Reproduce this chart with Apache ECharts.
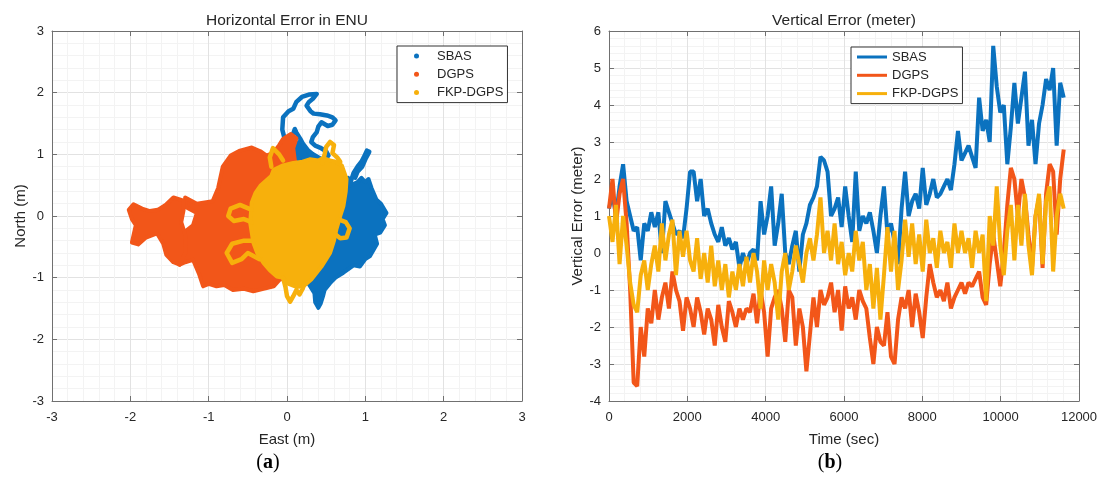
<!DOCTYPE html>
<html>
<head>
<meta charset="utf-8">
<script src="https://cdn.jsdelivr.net/npm/echarts@6/dist/echarts.min.js"></script>
<style>
  html, body { margin: 0; background: #fff; }
  #chart { width: 1102px; height: 487px; }
</style>
</head>
<body>
<div id="chart"></div>
<script>
// ---- (a) horizontal error, [east, north] in metres ----
const sbasEastLobe = [[0.45,0.6],[0.62,0.62],[0.7,0.58],[0.78,0.62],[0.82,0.5],[0.9,0.55],[0.95,0.62],[1.0,0.55],[1.04,0.6],[1.08,0.45],[1.14,0.27],[1.2,0.2],[1.27,0.05],[1.22,-0.05],[1.25,-0.15],[1.19,-0.27],[1.12,-0.3],[1.15,-0.45],[1.06,-0.65],[1.0,-0.7],[0.93,-0.82],[0.85,-0.8],[0.72,-0.92],[0.62,-1.0],[0.55,-1.09],[0.48,-1.2],[0.46,-1.3],[0.43,-1.42],[0.4,-1.49],[0.36,-1.4],[0.35,-1.25],[0.3,-1.15],[0.25,-1.05],[0.3,-0.6],[0.4,0.0]];
const sbasNorthCore = [[-0.02,0.8],[0.0,1.0],[0.05,1.15],[0.15,1.2],[0.22,1.1],[0.3,1.0],[0.36,0.9],[0.3,0.8]];
const sbasNorthLoops = [[0.1,0.8],[0.05,0.95],[-0.03,1.1],[-0.03,1.25],[-0.06,1.4],[-0.05,1.6],[0.02,1.7],[0.08,1.74],[0.12,1.85],[0.19,1.93],[0.28,1.97],[0.38,1.98],[0.33,1.9],[0.28,1.85],[0.25,1.79],[0.3,1.7],[0.34,1.66],[0.42,1.65],[0.51,1.63],[0.58,1.6],[0.62,1.55],[0.58,1.48],[0.52,1.46],[0.44,1.52],[0.4,1.45],[0.38,1.36],[0.33,1.28],[0.31,1.2],[0.36,1.14],[0.42,1.11],[0.5,1.05],[0.53,0.98],[0.47,0.9],[0.4,0.95],[0.33,1.0],[0.27,1.06],[0.2,1.18],[0.17,1.25],[0.12,1.35],[0.1,1.41],[0.07,1.3],[0.04,1.1],[0.1,1.0],[0.15,0.9],[0.2,0.8]];
const sbasEastString = [[0.8,0.5],[0.85,0.7],[0.9,0.8],[0.95,0.88],[0.98,0.95],[1.02,1.06],[1.05,1.04],[1.0,0.92],[0.96,0.8],[0.9,0.72],[0.87,0.62]];

const dgpsCore = [[-1.3,0.3],[-1.15,0.2],[-0.95,0.24],[-0.88,0.45],[-0.82,0.8],[-0.72,0.98],[-0.6,1.06],[-0.45,1.11],[-0.34,1.05],[-0.26,0.98],[-0.17,1.03],[-0.1,1.15],[-0.05,1.25],[0.05,1.33],[0.12,1.26],[0.08,1.1],[0.1,0.9],[0.2,0.7],[0.2,0.0],[0.0,-1.0],[-0.09,-1.03],[-0.17,-1.14],[-0.3,-1.18],[-0.43,-1.22],[-0.55,-1.18],[-0.69,-1.2],[-0.8,-1.12],[-0.9,-1.14],[-1.0,-1.1],[-1.07,-1.14],[-1.12,-0.95],[-1.2,-0.71],[-1.3,-0.75],[-1.37,-0.79],[-1.45,-0.7],[-1.5,-0.5],[-1.35,-0.3],[-1.2,-0.15],[-1.15,0.05],[-1.3,0.15]];
const dgpsWestTail = [[-1.32,0.25],[-1.45,0.3],[-1.55,0.18],[-1.65,0.1],[-1.75,0.08],[-1.85,0.12],[-1.96,0.19],[-2.02,0.1],[-1.98,-0.05],[-1.93,-0.15],[-1.98,-0.43],[-1.9,-0.46],[-1.8,-0.35],[-1.66,-0.28],[-1.58,-0.45],[-1.54,-0.63],[-1.45,-0.75],[-1.37,-0.79],[-1.3,-0.6],[-1.3,-0.3],[-1.35,-0.1],[-1.32,0.1]];

const fkpCore = [[-0.34,0.49],[-0.2,0.65],[-0.17,0.75],[-0.05,0.82],[0.08,0.86],[0.2,0.88],[0.29,0.92],[0.4,0.9],[0.46,0.94],[0.55,0.9],[0.62,0.88],[0.7,0.82],[0.76,0.6],[0.75,0.4],[0.72,0.16],[0.68,0.0],[0.63,-0.22],[0.6,-0.4],[0.55,-0.6],[0.44,-0.82],[0.36,-0.95],[0.31,-1.03],[0.21,-1.14],[0.12,-1.15],[0.02,-1.1],[-0.05,-1.0],[-0.13,-0.98],[-0.22,-0.88],[-0.3,-0.76],[-0.38,-0.6],[-0.43,-0.43],[-0.47,-0.11],[-0.45,0.22],[-0.4,0.38]];
const fkpNorthLoop = [[0.45,0.85],[0.48,1.0],[0.5,1.12],[0.55,1.2],[0.6,1.15],[0.58,1.02],[0.64,0.95],[0.68,0.88]];
const fkpNorthWestLoop = [[-0.2,0.8],[-0.22,0.95],[-0.18,1.1],[-0.1,1.0],[-0.05,0.9]];
const fkpWestLoop = [[-0.45,0.1],[-0.6,0.18],[-0.72,0.12],[-0.75,0.0],[-0.68,-0.08],[-0.55,-0.05],[-0.45,-0.1]];
const fkpSouthWestLoop = [[-0.42,-0.4],[-0.55,-0.4],[-0.7,-0.45],[-0.77,-0.6],[-0.7,-0.76],[-0.58,-0.7],[-0.5,-0.6],[-0.35,-0.7]];
const fkpSouthLoop = [[-0.05,-1.0],[-0.02,-1.15],[0.0,-1.3],[0.04,-1.39],[0.08,-1.3],[0.12,-1.2],[0.16,-1.27],[0.2,-1.18],[0.22,-1.1]];
const fkpEastLoop = [[0.65,-0.05],[0.75,-0.1],[0.8,-0.2],[0.76,-0.35],[0.68,-0.36],[0.62,-0.3]];

// ---- (b) vertical error in metres, one reading every 90 s ----
const timeStep = 90;
const sbasVert = [1.2,1.6,1.0,1.8,2.4,1.4,1.0,0.6,0.7,-0.2, 0.8,0.6,1.1,0.7,1.1,0.0,1.4,1.1,0.8,0.5,
  0.6,0.4,1.2,2.2,2.2,1.4,2.0,1.0,1.2,0.8, 0.5,0.3,0.7,0.2,0.4,0.1,0.3,-0.4,0.0,-0.3,
  0.0,0.1,-0.2,1.4,0.5,1.0,1.8,0.2,0.8,1.6, 0.0,-0.3,0.2,0.6,-0.5,0.5,0.8,1.3,1.5,1.8,
  2.6,2.5,2.2,1.0,1.2,1.5,0.7,1.8,1.0,0.3, 2.2,0.6,1.0,0.8,1.1,0.6,0.0,1.0,1.8,0.5,
  0.8,0.3,-0.3,1.2,2.2,1.0,1.4,1.6,1.2,2.3, 1.3,1.6,2.0,1.5,1.6,1.8,2.0,1.7,2.4,3.3,
  2.5,2.7,2.9,2.6,2.3,4.2,3.3,3.6,3.0,5.6, 4.5,3.8,4.0,2.4,3.4,4.6,3.5,4.2,4.9,2.9,
  3.6,2.4,3.5,4.0,4.7,4.4,5.0,2.9,4.6,4.2];
const dgpsVert = [1.2,2.0,0.8,1.6,2.0,0.8,-1.0,-3.5,-3.6,-2.0, -2.8,-1.5,-1.9,-1.0,-1.8,-1.2,-0.8,-1.5,-0.5,-1.0,
  -1.3,-2.1,-1.2,-1.5,-2.0,-1.2,-1.6,-2.2,-1.5,-1.8, -2.5,-1.4,-2.0,-2.4,-1.3,-1.6,-2.0,-1.5,-1.8,-1.5,
  -1.6,-1.1,-1.9,-1.0,-1.6,-2.8,-1.5,-1.2,-1.0,-1.5, -2.4,-1.0,-1.2,-2.5,-1.5,-2.0,-3.2,-2.2,-1.2,-2.0,
  -1.0,-1.4,-1.2,-0.8,-1.6,-1.0,-2.1,-0.9,-1.5,-1.2, -1.8,-1.0,-1.3,-1.5,-2.3,-3.0,-2.0,-2.4,-2.5,-1.6,
  -2.8,-3.0,-1.8,-1.2,-1.5,-1.0,-2.0,-1.1,-1.6,-2.3, -1.2,-0.3,-0.8,-1.2,-1.0,-1.3,-0.8,-1.5,-1.2,-1.0,
  -0.8,-1.1,-0.8,-0.9,-0.7,-0.5,-1.2,-1.4,-0.3,0.5, -0.2,-0.9,0.0,1.3,2.3,2.0,1.0,2.0,1.5,0.5,
  -0.4,1.0,1.5,-0.4,1.6,2.4,2.2,0.5,2.0,2.8];
const fkpVert = [1.0,0.3,1.3,-0.3,1.0,0.2,-0.8,-1.4,-1.6,-0.6, -0.2,-1.0,-0.3,0.2,-0.5,0.8,-0.2,0.5,0.9,-0.6,
  0.6,-0.1,0.6,-0.2,-0.5,0.4,-0.7,0.0,-0.8,0.2, -0.9,-0.2,-1.0,-0.3,-1.2,-0.5,-1.0,-0.3,-0.9,-0.1,
  -0.8,0.0,-0.5,-1.5,-0.2,-1.0,-0.3,-0.8,-1.8,-0.5, 0.0,-1.0,-0.5,0.2,-0.3,-0.8,0.0,0.4,-0.2,0.5,
  1.5,0.0,0.6,-0.2,0.8,-0.3,0.3,-0.6,0.0,-0.5, 0.6,-0.2,0.3,-1.0,-0.3,-1.5,-0.4,-1.8,-0.6,0.7,
  -0.5,0.6,-1.0,-0.2,0.9,-0.1,0.8,-0.3,0.5,-0.5, 0.9,0.0,0.4,-0.4,0.6,0.0,0.3,-0.4,0.8,0.0,
  0.6,0.0,0.4,-0.4,0.6,0.0,0.5,-1.3,1.0,0.2, 1.8,0.2,-0.6,0.6,1.3,-0.2,1.3,0.2,1.6,0.2,
  -0.6,1.0,1.6,-0.3,1.4,1.8,-0.5,1.0,1.6,1.2];

const seriesNames = ['SBAS', 'DGPS', 'FKP-DGPS'];
const colors = ['#0b72bf', '#f25619', '#f7b00c'];

const FONT = '"Liberation Sans", Arial, sans-serif';
const TXT = '#262626';
const BOX = '#707070';

function withTime(values) {
  return values.map((v, i) => [i * timeStep, v]);
}

// filled regions + stray loops drawn through the cartesian scale
function blobSeries(name, color, regions, loops) {
  const shapes = regions.map(p => ({ closed: true, pts: p }))
    .concat(loops.map(p => ({ closed: false, pts: p })));
  return {
    type: 'custom',
    name: name,
    xAxisIndex: 0,
    yAxisIndex: 0,
    itemStyle: { color: color },
    data: shapes.map(s => s.pts[0]),
    encode: { x: 0, y: 1 },
    silent: true,
    renderItem: function (params, api) {
      const s = shapes[params.dataIndex];
      const points = s.pts.map(p => api.coord(p));
      return {
        type: s.closed ? 'polygon' : 'polyline',
        shape: { points: points },
        style: {
          fill: s.closed ? color : 'none',
          stroke: color,
          lineWidth: s.closed ? 4 : 4.5,
          lineJoin: 'round',
          lineCap: 'round'
        }
      };
    }
  };
}

function valueAxis(grid, pos, min, max, step, name, gap) {
  const main = pos === 'bottom' || pos === 'left';
  const ax = {
    type: 'value',
    gridIndex: grid,
    position: pos,
    min: min,
    max: max,
    interval: step,
    axisLine: { show: true, onZero: false, lineStyle: { color: BOX, width: 1 } },
    axisTick: { show: true, inside: true, length: 5, lineStyle: { color: BOX } },
    axisLabel: {
      show: main, color: TXT, fontSize: 13, fontFamily: FONT,
      margin: pos === 'bottom' ? 10 : 8,
      formatter: v => String(v)
    },
    splitLine: { show: main, lineStyle: { color: '#e2e2e2', width: 1 } },
    minorTick: { show: false, splitNumber: 5 },
    minorSplitLine: { show: main, lineStyle: { color: '#f3f3f3', width: 1 } }
  };
  if (main) {
    ax.name = name;
    ax.nameLocation = 'middle';
    ax.nameGap = gap;
    ax.nameTextStyle = { color: TXT, fontSize: 15, fontFamily: FONT };
  }
  return ax;
}

const chart = echarts.init(document.getElementById('chart'));

chart.setOption({
  animation: false,
  backgroundColor: '#fff',
  grid: [
    { left: 52, top: 31, width: 470, height: 370 },
    { left: 609, top: 31, width: 470, height: 370 }
  ],
  xAxis: [
    valueAxis(0, 'bottom', -3, 3, 1, 'East (m)', 31),
    valueAxis(0, 'top', -3, 3, 1),
    valueAxis(1, 'bottom', 0, 12000, 2000, 'Time (sec)', 31),
    valueAxis(1, 'top', 0, 12000, 2000)
  ],
  yAxis: [
    valueAxis(0, 'left', -3, 3, 1, 'North (m)', 24),
    valueAxis(0, 'right', -3, 3, 1),
    valueAxis(1, 'left', -4, 6, 1, 'Vertical Error (meter)', 22),
    valueAxis(1, 'right', -4, 6, 1)
  ],
  legend: [
    {
      orient: 'vertical', left: 397, top: 46,
      padding: [3, 4, 3, 17],
      itemWidth: 5, itemHeight: 5, itemGap: 4.3,
      backgroundColor: '#fff', borderColor: '#333', borderWidth: 1,
      selectedMode: false,
      textStyle: { color: TXT, fontSize: 13, fontFamily: FONT, lineHeight: 14, padding: [0, 0, 0, 13] },
      data: seriesNames.map(n => ({ name: n, icon: 'circle' }))
    },
    {
      orient: 'vertical', left: 851, top: 47,
      padding: [3, 4, 3, 6],
      itemWidth: 30, itemHeight: 3, itemGap: 4.3,
      backgroundColor: '#fff', borderColor: '#333', borderWidth: 1,
      selectedMode: false,
      textStyle: { color: TXT, fontSize: 13, fontFamily: FONT, lineHeight: 14 },
      data: seriesNames.map(n => ({ name: n, icon: 'rect' }))
    }
  ],
  graphic: [
    { type: 'text', x: 287, y: 21, style: { text: 'Horizontal Error in ENU', fill: TXT, fontSize: 15.5, fontFamily: FONT, align: 'center', verticalAlign: 'middle' } },
    { type: 'text', x: 844, y: 21, style: { text: 'Vertical Error (meter)', fill: TXT, fontSize: 15.5, fontFamily: FONT, align: 'center', verticalAlign: 'middle' } },
    { type: 'text', x: 268, y: 463, style: { text: '({b|a})', fill: '#000', fontSize: 20, fontFamily: '"Liberation Serif", serif', align: 'center', verticalAlign: 'middle', rich: { b: { fontSize: 20, fontFamily: '"Liberation Serif", serif', fontWeight: 'bold', fill: '#000' } } } },
    { type: 'text', x: 830, y: 463, style: { text: '({b|b})', fill: '#000', fontSize: 20, fontFamily: '"Liberation Serif", serif', align: 'center', verticalAlign: 'middle', rich: { b: { fontSize: 20, fontFamily: '"Liberation Serif", serif', fontWeight: 'bold', fill: '#000' } } } }
  ],
  series: [
    blobSeries('SBAS', colors[0], [sbasEastLobe, sbasNorthCore], [sbasNorthLoops, sbasEastString]),
    blobSeries('DGPS', colors[1], [dgpsCore, dgpsWestTail], []),
    blobSeries('FKP-DGPS', colors[2], [fkpCore], [fkpNorthLoop, fkpNorthWestLoop, fkpWestLoop, fkpSouthWestLoop, fkpSouthLoop, fkpEastLoop]),
    { type: 'line', name: 'SBAS', xAxisIndex: 2, yAxisIndex: 2, data: withTime(sbasVert), showSymbol: false, lineStyle: { color: colors[0], width: 4 }, itemStyle: { color: colors[0] } },
    { type: 'line', name: 'DGPS', xAxisIndex: 2, yAxisIndex: 2, data: withTime(dgpsVert), showSymbol: false, lineStyle: { color: colors[1], width: 4 }, itemStyle: { color: colors[1] } },
    { type: 'line', name: 'FKP-DGPS', xAxisIndex: 2, yAxisIndex: 2, data: withTime(fkpVert), showSymbol: false, lineStyle: { color: colors[2], width: 4 }, itemStyle: { color: colors[2] } }
  ]
});
</script>
</body>
</html>
